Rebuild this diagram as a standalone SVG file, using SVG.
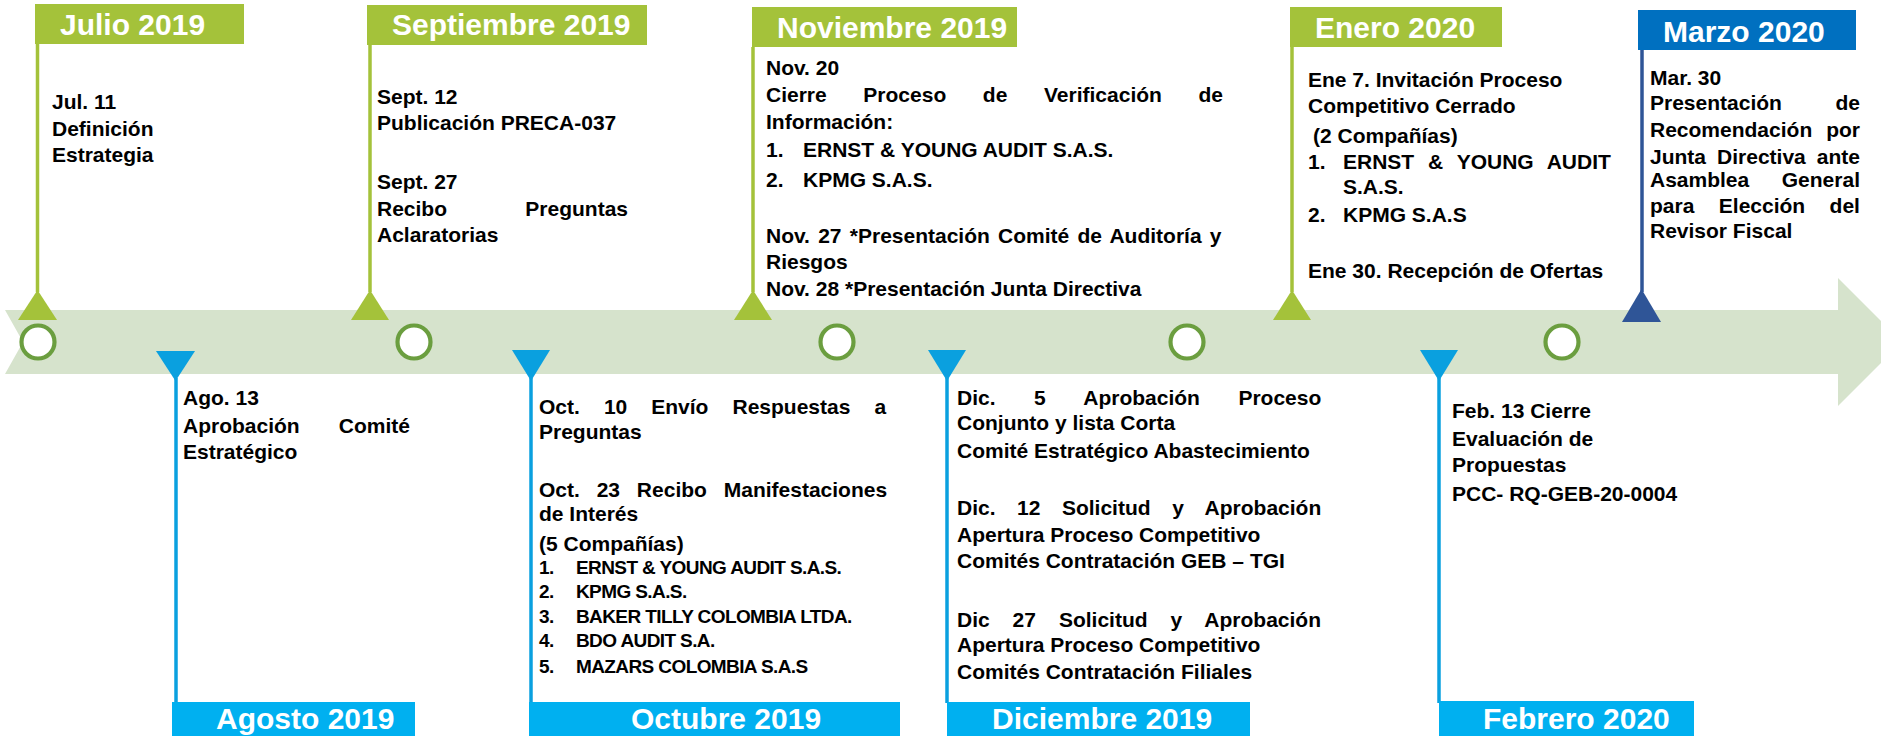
<svg xmlns="http://www.w3.org/2000/svg" width="1881" height="736" viewBox="0 0 1881 736">
<style>
.hdr{font-family:"Liberation Sans",Arial,sans-serif;font-weight:bold;font-size:30px;fill:#fff}
.t{font-family:"Liberation Sans",Arial,sans-serif;font-weight:bold;font-size:21px;fill:#000}
.s{font-family:"Liberation Sans",Arial,sans-serif;font-weight:bold;font-size:19px;letter-spacing:-0.6px;fill:#000}
.gline{stroke:#A4C23A;stroke-width:3.5;fill:none}
.bline{stroke:#0AA0DF;stroke-width:3.5;fill:none}
.dline{stroke:#2F5597;stroke-width:3.5;fill:none}
.gtri{fill:#A4C23A}
.btri{fill:#0AA0DF}
.dtri{fill:#2F5597}
.ring{fill:#fff;stroke:#6B9E3F;stroke-width:4.2}
.gbox{fill:#A4C23A}
.cbox{fill:#00B0F0}
.mbox{fill:#0070C0}
</style>
<rect width="1881" height="736" fill="#fff"/>
<g id="timeline">
<polygon points="5,310 1838,310 1838,278 1902,342 1838,406 1838,374 5,374 23,342" fill="#D6E3CC"/>
<ellipse class="ring" cx="38" cy="342" rx="16.5" ry="16.5"/>
<ellipse class="ring" cx="414" cy="342" rx="16.5" ry="16.5"/>
<ellipse class="ring" cx="837" cy="342" rx="16.5" ry="16.5"/>
<ellipse class="ring" cx="1187" cy="342" rx="16.5" ry="16.5"/>
<ellipse class="ring" cx="1562" cy="342" rx="16.5" ry="16.5"/>
</g>
<g id="connectors">
<line class="gline" x1="37.5" y1="44" x2="37.5" y2="292"/>
<polygon class="gtri" points="18,320 57,320 37.5,290"/>
<line class="gline" x1="370" y1="45" x2="370" y2="292"/>
<polygon class="gtri" points="351,320 389,320 370,290"/>
<line class="gline" x1="753" y1="47" x2="753" y2="292"/>
<polygon class="gtri" points="734,320 772,320 753,290"/>
<line class="gline" x1="1292" y1="47" x2="1292" y2="292"/>
<polygon class="gtri" points="1273,320 1311,320 1292,290"/>
<line class="dline" x1="1642" y1="50" x2="1642" y2="292"/>
<polygon class="dtri" points="1622,322 1661,322 1641.5,289"/>
<line class="bline" x1="176" y1="378" x2="176" y2="703"/>
<polygon class="btri" points="156,351 195,351 175.5,381"/>
<line class="bline" x1="531" y1="378" x2="531" y2="703"/>
<polygon class="btri" points="512,350 550,350 531,381"/>
<line class="bline" x1="947" y1="378" x2="947" y2="703"/>
<polygon class="btri" points="928,350 966,350 947,381"/>
<line class="bline" x1="1439" y1="378" x2="1439" y2="703"/>
<polygon class="btri" points="1420,350 1458,350 1439,381"/>
</g>
<g id="julio">
<rect class="gbox" x="35" y="4" width="209" height="40"/>
<text class="hdr" x="60" y="35">Julio 2019</text>
<text class="t" x="52" y="109">Jul. 11</text>
<text class="t" x="52" y="136">Definición</text>
<text class="t" x="52" y="162">Estrategia</text>
</g>
<g id="septiembre">
<rect class="gbox" x="367" y="5" width="280" height="40"/>
<text class="hdr" x="392" y="35">Septiembre 2019</text>
<text class="t" x="377" y="104">Sept. 12</text>
<text class="t" x="377" y="130">Publicación PRECA-037</text>
<text class="t" x="377" y="189">Sept. 27</text>
<text class="t" x="377" y="216">Recibo</text>
<text class="t" x="628" y="216" text-anchor="end">Preguntas</text>
<text class="t" x="377" y="242">Aclaratorias</text>
</g>
<g id="noviembre">
<rect class="gbox" x="752" y="7" width="265" height="40"/>
<text class="hdr" x="777" y="38">Noviembre 2019</text>
<text class="t" x="766" y="75">Nov. 20</text>
<text class="t" x="766" y="102" style="word-spacing:30.8px">Cierre Proceso de Verificación de</text>
<text class="t" x="766" y="129">Información:</text>
<text class="t" x="766" y="157">1.</text>
<text class="t" x="803" y="157">ERNST &amp; YOUNG AUDIT S.A.S.</text>
<text class="t" x="766" y="187">2.</text>
<text class="t" x="803" y="187">KPMG S.A.S.</text>
<text class="t" x="766" y="243" style="word-spacing:2.4px">Nov. 27 *Presentación Comité de Auditoría y</text>
<text class="t" x="766" y="269">Riesgos</text>
<text class="t" x="766" y="296">Nov. 28 *Presentación Junta Directiva</text>
</g>
<g id="enero">
<rect class="gbox" x="1290" y="7" width="212" height="40"/>
<text class="hdr" x="1315" y="38">Enero 2020</text>
<text class="t" x="1308" y="87">Ene 7. Invitación Proceso</text>
<text class="t" x="1308" y="113">Competitivo Cerrado</text>
<text class="t" x="1313" y="143">(2 Compañías)</text>
<text class="t" x="1308" y="169">1.</text>
<text class="t" x="1343" y="169" style="word-spacing:8px">ERNST &amp; YOUNG AUDIT</text>
<text class="t" x="1343" y="194">S.A.S.</text>
<text class="t" x="1308" y="222">2.</text>
<text class="t" x="1343" y="222">KPMG S.A.S</text>
<text class="t" x="1308" y="278">Ene 30. Recepción de Ofertas</text>
</g>
<g id="marzo">
<rect class="mbox" x="1638" y="10" width="218" height="40"/>
<text class="hdr" x="1663" y="42">Marzo 2020</text>
<text class="t" x="1650" y="85">Mar. 30</text>
<text class="t" x="1650" y="110">Presentación</text>
<text class="t" x="1860" y="110" text-anchor="end">de</text>
<text class="t" x="1650" y="137">Recomendación</text>
<text class="t" x="1860" y="137" text-anchor="end">por</text>
<text class="t" x="1650" y="164" style="word-spacing:5.2px">Junta Directiva ante</text>
<text class="t" x="1650" y="187">Asamblea</text>
<text class="t" x="1860" y="187" text-anchor="end">General</text>
<text class="t" x="1650" y="213" style="word-spacing:18.6px">para Elección del</text>
<text class="t" x="1650" y="238">Revisor Fiscal</text>
</g>
<g id="agosto">
<rect class="cbox" x="172" y="702" width="243" height="34"/>
<text class="hdr" x="216" y="729">Agosto 2019</text>
<text class="t" x="183" y="405">Ago. 13</text>
<text class="t" x="183" y="433">Aprobación</text>
<text class="t" x="410" y="433" text-anchor="end">Comité</text>
<text class="t" x="183" y="459">Estratégico</text>
</g>
<g id="octubre">
<rect class="cbox" x="529" y="702" width="371" height="34"/>
<text class="hdr" x="631" y="729">Octubre 2019</text>
<text class="t" x="539" y="414" style="word-spacing:18.2px">Oct. 10 Envío Respuestas a</text>
<text class="t" x="539" y="439">Preguntas</text>
<text class="t" x="539" y="497" style="word-spacing:11px">Oct. 23 Recibo Manifestaciones</text>
<text class="t" x="539" y="521">de Interés</text>
<text class="t" x="539" y="551">(5 Compañías)</text>
<text class="s" x="539" y="574">1.</text>
<text class="s" x="576" y="574">ERNST &amp; YOUNG AUDIT S.A.S.</text>
<text class="s" x="539" y="598">2.</text>
<text class="s" x="576" y="598">KPMG S.A.S.</text>
<text class="s" x="539" y="623">3.</text>
<text class="s" x="576" y="623">BAKER TILLY COLOMBIA LTDA.</text>
<text class="s" x="539" y="647">4.</text>
<text class="s" x="576" y="647">BDO AUDIT S.A.</text>
<text class="s" x="539" y="673">5.</text>
<text class="s" x="576" y="673">MAZARS COLOMBIA S.A.S</text>
</g>
<g id="diciembre">
<rect class="cbox" x="947" y="702" width="303" height="34"/>
<text class="hdr" x="992" y="729">Diciembre 2019</text>
<text class="t" x="957" y="405" style="word-spacing:32.6px">Dic. 5 Aprobación Proceso</text>
<text class="t" x="957" y="430">Conjunto y lista Corta</text>
<text class="t" x="957" y="458">Comité Estratégico Abastecimiento</text>
<text class="t" x="957" y="515" style="word-spacing:15.7px">Dic. 12 Solicitud y Aprobación</text>
<text class="t" x="957" y="542">Apertura Proceso Competitivo</text>
<text class="t" x="957" y="568">Comités Contratación GEB – TGI</text>
<text class="t" x="957" y="627" style="word-spacing:17.1px">Dic 27 Solicitud y Aprobación</text>
<text class="t" x="957" y="652">Apertura Proceso Competitivo</text>
<text class="t" x="957" y="679">Comités Contratación Filiales</text>
</g>
<g id="febrero">
<rect class="cbox" x="1439" y="701" width="255" height="35"/>
<text class="hdr" x="1483" y="729">Febrero 2020</text>
<text class="t" x="1452" y="418">Feb. 13 Cierre</text>
<text class="t" x="1452" y="446">Evaluación de</text>
<text class="t" x="1452" y="472">Propuestas</text>
<text class="t" x="1452" y="501">PCC- RQ-GEB-20-0004</text>
</g>
</svg>
